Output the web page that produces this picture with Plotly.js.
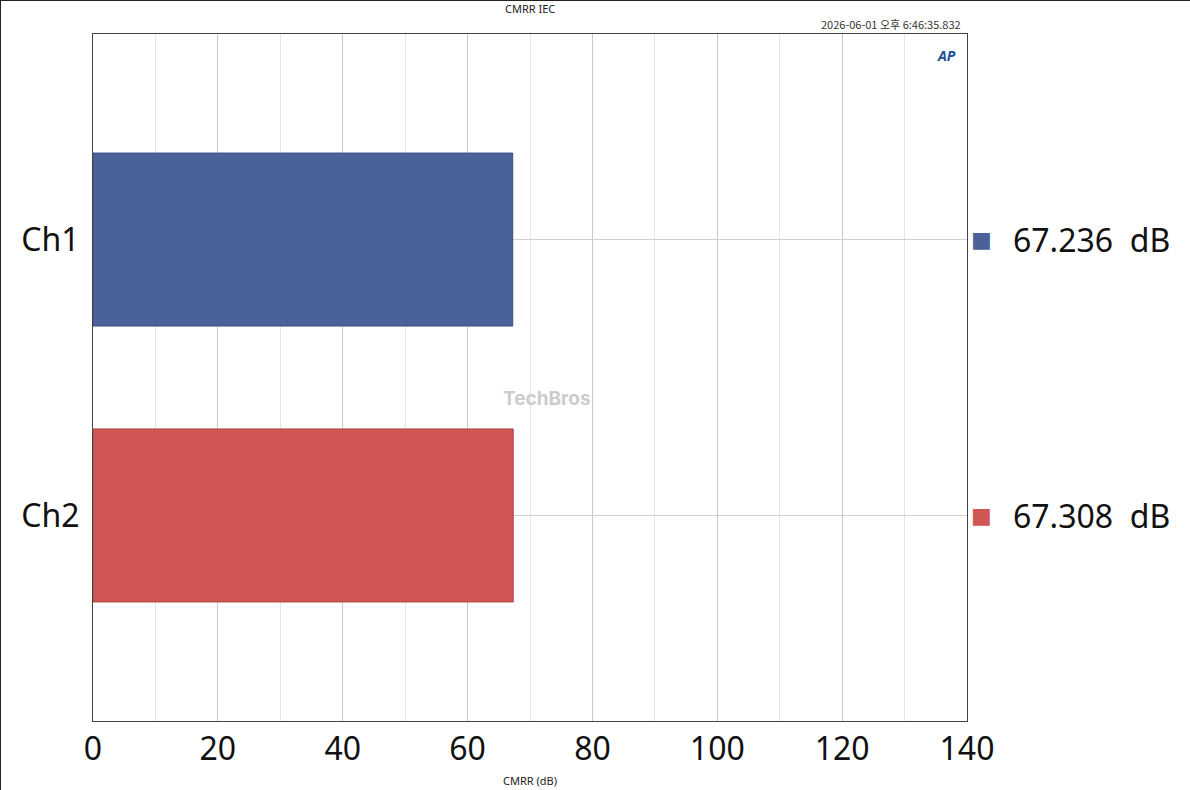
<!DOCTYPE html>
<html>
<head>
<meta charset="utf-8">
<script src="https://cdn.plot.ly/plotly-3.0.1.min.js"></script>
<style>
 body { margin: 0; background: #fff; }
 #chart { width: 1190px; height: 790px; box-sizing: border-box; border: 1px solid #222; }
</style>
</head>
<body>
<div id="chart"></div>
<script>
'use strict'

// data
const channels = ['Ch1', 'Ch2'];
const cmrr = [67.236, 67.308];
const barColors = ['#4a6298', '#cf5652'];
const lineColors = ['#3a4f80', '#a84440'];

let trace = {
    type: 'bar',
    orientation: 'h',
    y: channels,
    x: cmrr,
    width: 0.627,
    marker: { color: barColors, line: { color: lineColors, width: 1 } },
    hoverinfo: 'none'
};

let annotations = [
    { text: 'CMRR IEC', xref: 'paper', yref: 'paper', x: 0.5, y: 1, yshift: 16, yanchor: 'bottom',
      showarrow: false, font: { size: 11, color: '#222' } },
    { text: '2026-06-01 오후 6:46:35.832', xref: 'paper', yref: 'paper', x: 0.995, y: 1, yanchor: 'bottom',
      xanchor: 'right', showarrow: false, font: { size: 11, color: '#333', family: 'Noto Sans CJK KR' } },
    { text: '<b><i>AP</i></b>', xref: 'paper', yref: 'paper', x: 0.99, y: 0.985, xanchor: 'right', yanchor: 'top',
      showarrow: false, font: { size: 14, color: '#1c4f9c' } },
    { text: '<b>TechBros</b>', xref: 'paper', yref: 'paper', x: 0.52, y: 0.469,
      showarrow: false, font: { size: 19, color: '#cccccc', family: 'Inter' } },
    { text: 'CMRR (dB)', xref: 'paper', yref: 'paper', x: 0.5, y: 0, yshift: -50, yanchor: 'top',
      showarrow: false, font: { size: 11, color: '#222' } }
];
channels.forEach(function(ch, i) {
    annotations.push({
        text: '■', xref: 'paper', yref: 'y', x: 1, y: ch, xanchor: 'left', xshift: 2,
        showarrow: false, font: { size: 22, color: barColors[i], family: 'DejaVu Sans' }
    });
    annotations.push({
        text: cmrr[i].toFixed(3) + '  dB',
        xref: 'paper', yref: 'y', x: 1, y: ch, xanchor: 'left', xshift: 44,
        showarrow: false, font: { size: 32, color: '#111', family: 'Noto Sans' }
    });
});

let layout = {
    width: 1190, height: 790,
    margin: { l: 92, r: 224, t: 33, b: 70 },
    paper_bgcolor: '#fff', plot_bgcolor: '#fff',
    showlegend: false,
    font: { family: 'Noto Sans', color: '#111' },
    xaxis: {
        range: [0, 140], dtick: 20, showgrid: true, gridcolor: '#c8c8c8',
        minor: { dtick: 10, showgrid: true, gridcolor: '#e6e6e6' },
        zeroline: false, showline: true, mirror: true, linecolor: '#444',
        tickfont: { size: 32 }, ticks: ''
    },
    yaxis: {
        range: [1.745, -0.745], showgrid: true, gridcolor: '#d0d0d0',
        showline: true, mirror: true, linecolor: '#444',
        tickfont: { size: 32 }, ticks: '', ticklabelstandoff: 6
    },
    annotations: annotations
};

Plotly.newPlot('chart', [trace], layout, { displayModeBar: false, staticPlot: true });
</script>
</body>
</html>
